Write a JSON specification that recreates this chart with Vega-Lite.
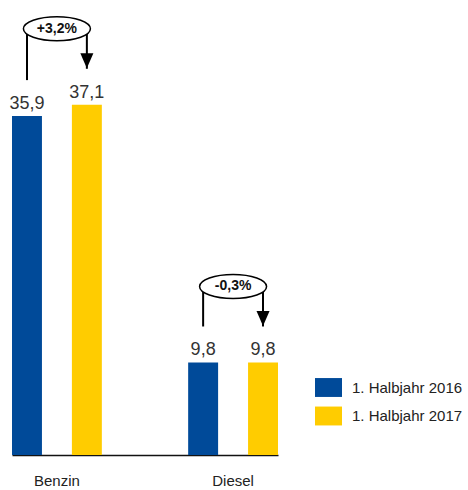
{
  "$schema": "https://vega.github.io/schema/vega-lite/v6.json",
  "width": 266,
  "height": 455,
  "autosize": "none",
  "padding": {"left": 12, "top": 0, "right": 190, "bottom": 35},
  "background": "white",
  "config": {
    "view": {"stroke": null},
    "font": "Liberation Sans",
    "locale": {"number": {"decimal": ",", "thousands": ".", "grouping": [3], "currency": ["", " €"]}}
  },
  "datasets": {
    "werte": [
      {"kategorie": "Benzin", "zeitraum": "1. Halbjahr 2016", "wert": 35.9},
      {"kategorie": "Benzin", "zeitraum": "1. Halbjahr 2017", "wert": 37.1},
      {"kategorie": "Diesel", "zeitraum": "1. Halbjahr 2016", "wert": 9.8},
      {"kategorie": "Diesel", "zeitraum": "1. Halbjahr 2017", "wert": 9.8}
    ],
    "veraenderung": [
      {"kategorie": "Benzin", "text": "+3,2%"},
      {"kategorie": "Diesel", "text": "-0,3%"}
    ]
  },
  "data": {"name": "werte"},
  "transform": [
    {"joinaggregate": [{"op": "max", "field": "wert", "as": "maxwert"}], "groupby": ["kategorie"]},
    {"lookup": "kategorie", "from": {"data": {"name": "veraenderung"}, "key": "kategorie", "fields": ["text"]}}
  ],
  "layer": [
    {
      "mark": {"type": "bar"},
      "encoding": {
        "x": {"field": "kategorie", "type": "nominal", "sort": null,
          "scale": {"paddingInner": 0.49, "paddingOuter": 0},
          "axis": {"title": null, "labelAngle": 0, "ticks": false, "domainColor": "#111", "domainWidth": 1.5, "labelPadding": 18, "labelFontSize": 15, "labelColor": "#222", "labelFont": "Liberation Sans"}},
        "xOffset": {"field": "zeitraum", "type": "nominal", "scale": {"paddingInner": 0.5, "paddingOuter": 0}},
        "y": {"field": "wert", "type": "quantitative", "scale": {"domain": [0, 48.2], "nice": false, "zero": true}, "axis": null},
        "color": {"field": "zeitraum", "type": "nominal",
          "scale": {"domain": ["1. Halbjahr 2016", "1. Halbjahr 2017"], "range": ["#004A99", "#FFCC00"]},
          "legend": {"title": null, "orient": "none", "legendX": 303, "legendY": 374, "padding": 0,
            "symbolType": "M-1,-0.7L1,-0.7L1,0.7L-1,0.7Z", "symbolSize": 729, "symbolStrokeWidth": 0,
            "labelFontSize": 15, "labelColor": "#222", "labelOffset": 10, "rowPadding": 5.5, "labelFont": "Liberation Sans"}}
      }
    },
    {
      "mark": {"type": "text", "baseline": "alphabetic", "dy": -7, "fontSize": 18, "color": "#333"},
      "encoding": {
        "x": {"field": "kategorie", "type": "nominal", "sort": null},
        "xOffset": {"field": "zeitraum", "type": "nominal"},
        "y": {"field": "wert", "type": "quantitative"},
        "text": {"field": "wert", "type": "quantitative", "format": ".1f"}
      }
    },
    {
      "mark": {"type": "rule", "color": "#000", "strokeWidth": 2, "yOffset": -36, "y2Offset": -76},
      "encoding": {
        "x": {"field": "kategorie", "type": "nominal", "sort": null},
        "xOffset": {"field": "zeitraum", "type": "nominal"},
        "y": {"field": "wert", "type": "quantitative"},
        "y2": {"field": "maxwert"}
      }
    },
    {
      "transform": [{"filter": "datum.zeitraum === '1. Halbjahr 2017'"}],
      "mark": {"type": "point", "shape": "M-0.87,-1L0.87,-1L0,1Z", "size": 225, "filled": true, "color": "#000", "opacity": 1, "yOffset": -44, "strokeWidth": 0},
      "encoding": {
        "x": {"field": "kategorie", "type": "nominal", "sort": null},
        "xOffset": {"field": "zeitraum", "type": "nominal"},
        "y": {"field": "wert", "type": "quantitative"}
      }
    },
    {
      "transform": [{"filter": "datum.zeitraum === '1. Halbjahr 2017'"}],
      "mark": {"type": "point", "shape": "M-1,0C-1,-0.1988,-0.5523,-0.36,0,-0.36C0.5523,-0.36,1,-0.1988,1,0C1,0.1988,0.5523,0.36,0,0.36C-0.5523,0.36,-1,0.1988,-1,0Z", "size": 4489, "filled": false, "fill": "white", "fillOpacity": 1, "stroke": "#000", "strokeWidth": 1.5, "opacity": 1, "yOffset": -76},
      "encoding": {
        "x": {"field": "kategorie", "type": "nominal", "sort": null},
        "y": {"field": "maxwert", "type": "quantitative"}
      }
    },
    {
      "transform": [{"filter": "datum.zeitraum === '1. Halbjahr 2017'"}],
      "mark": {"type": "text", "baseline": "middle", "fontSize": 14, "fontWeight": "bold", "color": "#111", "yOffset": -76},
      "encoding": {
        "x": {"field": "kategorie", "type": "nominal", "sort": null},
        "y": {"field": "maxwert", "type": "quantitative"},
        "text": {"field": "text", "type": "nominal"}
      }
    }
  ]
}
